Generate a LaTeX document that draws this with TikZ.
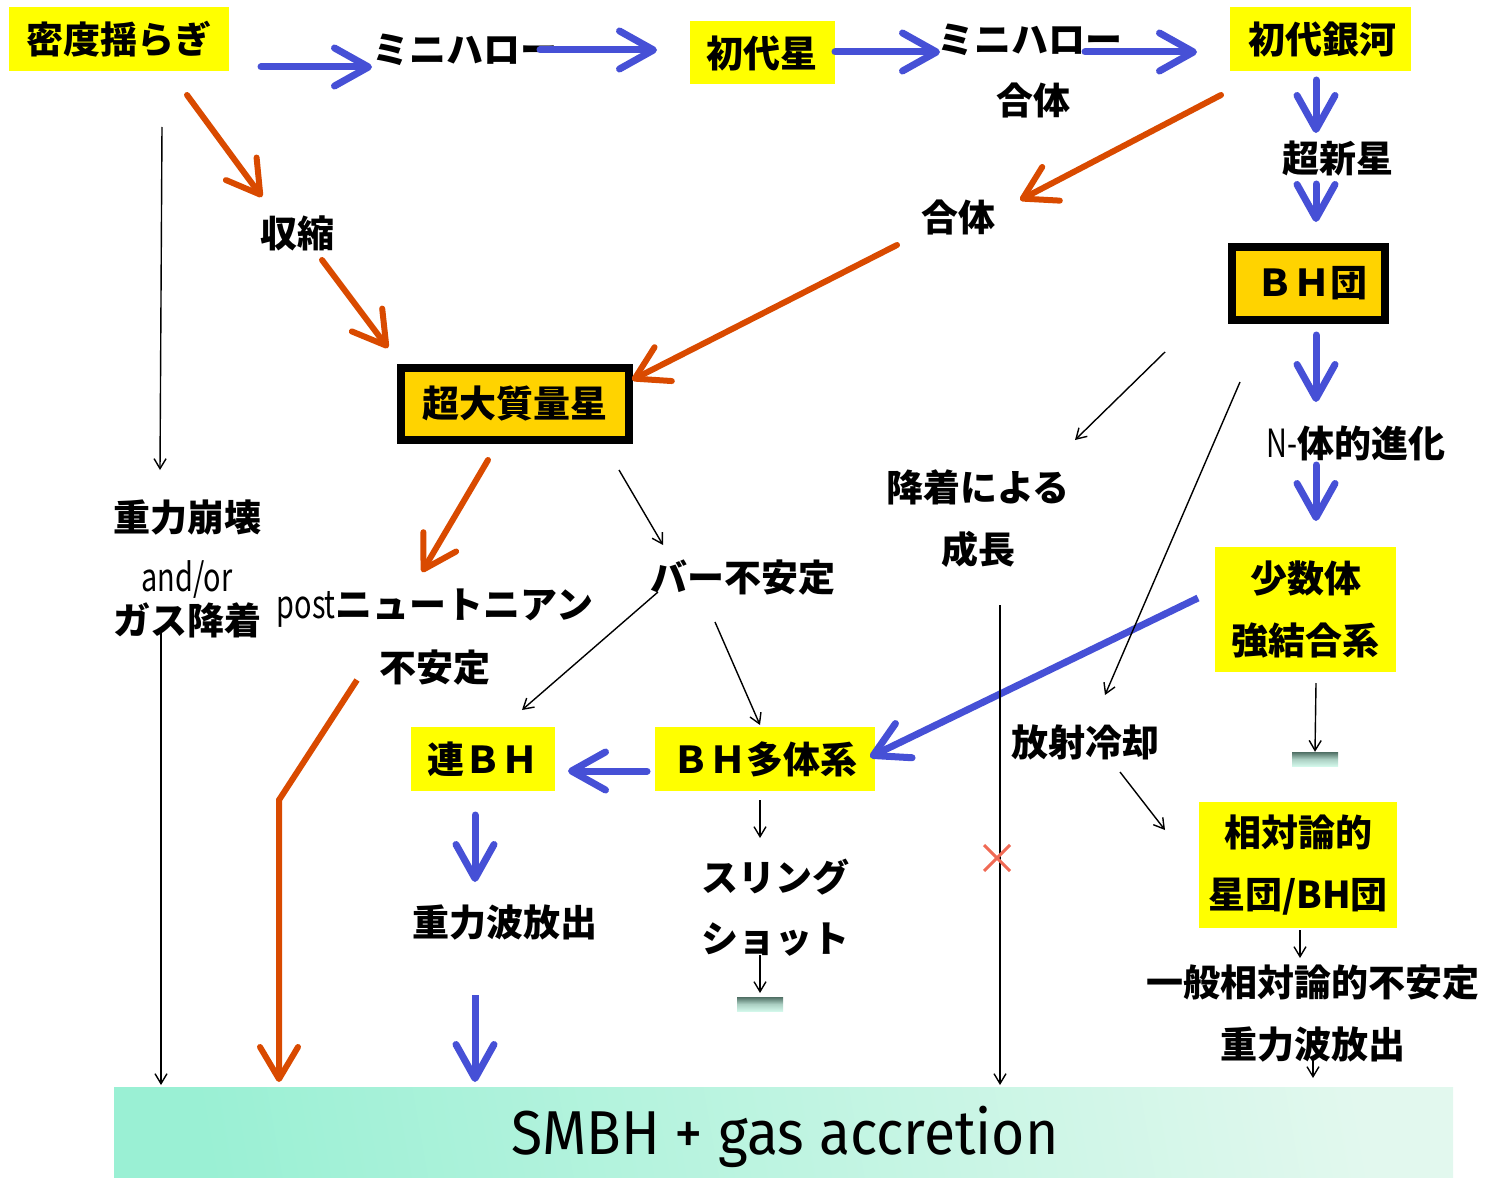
\documentclass[tikz,border=0pt]{standalone}
\usepackage{fontspec}
\setmainfont{Noto Sans CJK JP}
\newfontfamily\smbhfont{Fira Sans}
\usetikzlibrary{arrows.meta}
\definecolor{Yel}{HTML}{FFFF00}
\definecolor{Gold}{HTML}{FFD300}
\definecolor{Blu}{HTML}{4650D6}
\definecolor{Org}{HTML}{D94A00}
\definecolor{RedX}{HTML}{F06A55}
\definecolor{MintL}{HTML}{9AF0D4}
\definecolor{MintR}{HTML}{E2F8EE}
\definecolor{BarTop}{HTML}{4F6F64}
\definecolor{BarBot}{HTML}{D2F7EA}
\newcommand\jpf{\fontsize{37}{62}\selectfont\bfseries}
\newcommand\narrowlat[1]{\scalebox{0.78}[1.05]{\mdseries #1}}
\tikzset{
  lbl/.style={inner sep=0pt, font=\jpf, align=center},
  ybox/.style={fill=Yel, inner sep=0pt, font=\jpf, align=center},
  dbox/.style={fill=Gold, draw=black, line width=8pt, inner sep=0pt, font=\jpf},
  bluarrow/.style={draw=Blu, line width=7pt, line cap=round, -{Straight Barb[length=34pt,width=38pt,round]}},
  orgarrow/.style={draw=Org, line width=6pt, line cap=round, -{Straight Barb[length=32pt,width=38pt,round]}},
  thinarrow/.style={draw=black, line width=1.4pt, -{Straight Barb[length=10pt,width=12pt]}},
  stopbar/.style={shading=axis, top color=BarTop, bottom color=BarBot, middle color=BarBot!70!BarTop},
}
\begin{document}
\begin{tikzpicture}[x=1pt,y=-1pt]
\useasboundingbox (0,0) rectangle (1487,1177);
% ---------- top row ----------
\node[ybox, minimum width=220pt, minimum height=64pt] (mitsudo) at (119,39) {密度揺らぎ};
\node[lbl] (mh1) at (465,50) {ミニハロー};
\node[ybox, minimum width=145pt, minimum height=63pt] (shodaisei) at (762,53) {初代星};
\node[lbl] (mh2) at (1030,40) {ミニハロー};
\node[lbl] (gattai1) at (1033,100) {合体};
\node[ybox, minimum width=181pt, minimum height=64pt] (ginga) at (1320,39) {\hspace*{4pt}初代銀河};
\coordinate (a1s) at (261,67); \coordinate (a1e) at (372,67);
\coordinate (a2s) at (540,50); \coordinate (a2e) at (657,50);
\coordinate (a3s) at (835,52); \coordinate (a3e) at (940,52);
\coordinate (a4s) at (1085,52); \coordinate (a4e) at (1197,52);
\draw[bluarrow] (a1s) -- (a1e);
\draw[bluarrow] (a2s) -- (a2e);
\draw[bluarrow] (a3s) -- (a3e);
\draw[bluarrow] (a4s) -- (a4e);
% ---------- right column ----------
\node[lbl] (sn) at (1338,158) {超新星};
\node[dbox, minimum width=153pt, minimum height=73pt] (bhdan) at (1308.5,283.5) {\hspace*{6pt}ＢＨ団};
\node[lbl] (nbody) at (1356,443) {\narrowlat{N-}体的進化};
\node[ybox, minimum width=181pt, minimum height=125pt] (shosu) at (1305.5,609.5) {少数体\\強結合系};
\coordinate (r1s) at (1316,80); \coordinate (r1e) at (1316,133);
\coordinate (r2s) at (1316,184); \coordinate (r2e) at (1316,222);
\coordinate (r3s) at (1316,335); \coordinate (r3e) at (1316,402);
\coordinate (r4s) at (1316,465); \coordinate (r4e) at (1316,521);
\draw[bluarrow] (r1s) -- (r1e);
\draw[bluarrow] (r2s) -- (r2e);
\draw[bluarrow] (r3s) -- (r3e);
\draw[bluarrow] (r4s) -- (r4e);
\node[stopbar, minimum width=46pt, minimum height=14pt, inner sep=0pt] (bar1) at (1315,759) {};
\coordinate (s1) at (1316,683);
\draw[thinarrow] (s1) -- (bar1.north);
% ---------- orange path ----------
\node[lbl] (shukushuku) at (297,233) {収縮};
\node[dbox, minimum width=228pt, minimum height=72pt] (chodai) at (515,404) {超大質量星};
\node[lbl] (gattai2) at (958,217) {合体};
\coordinate (o1s) at (187,95); \coordinate (o1e) at (262,197);
\coordinate (o2s) at (322,260); \coordinate (o2e) at (388,348);
\coordinate (o3s) at (1221,95); \coordinate (o3e) at (1020,200);
\coordinate (o4s) at (897,245); \coordinate (o4e) at (632,380);
\coordinate (o5s) at (488,460); \coordinate (o5e) at (422,572);
\coordinate (o6s) at (357,680); \coordinate (o6m) at (279,800); \coordinate (o6e) at (279,1082);
\draw[orgarrow] (o1s) -- (o1e);
\draw[orgarrow] (o2s) -- (o2e);
\draw[orgarrow] (o3s) -- (o3e);
\draw[orgarrow] (o4s) -- (o4e);
\draw[orgarrow] (o5s) -- (o5e);
\draw[orgarrow, line cap=butt] (o6s) -- (o6m) -- (o6e);
% ---------- left column ----------
\node[lbl] (houkai) at (187,518) {重力崩壊};
\node[lbl] (andor) at (187,580) {\narrowlat{and/or}};
\node[lbl] (gas) at (187,620) {ガス降着};
\coordinate (l1s) at (162,127); \coordinate (l1e) at (160,470);
\coordinate (l2s) at (161,630); \coordinate (l2e) at (161,1085);
\draw[thinarrow] (l1s) -- (l1e);
\draw[thinarrow] (l2s) -- (l2e);
% ---------- middle ----------
\node[lbl] (post) at (435,608) {\narrowlat{post}ニュートニアン};
\node[lbl] (fuantei) at (435,668) {不安定};
\node[lbl] (bar) at (743,578) {バー不安定};
\node[ybox, minimum width=144pt, minimum height=64pt] (renbh) at (483,759) {連ＢＨ};
\node[ybox, minimum width=220pt, minimum height=64pt] (tabody) at (765,759) {ＢＨ多体系};
\node[lbl] (sling) at (775,877) {スリング};
\node[lbl] (shot) at (775,940) {ショット};
\node[lbl] (gw1) at (505,923) {重力波放出};
\node[stopbar, minimum width=46pt, minimum height=14pt, inner sep=0pt] (bar2) at (760,1004) {};
\coordinate (m1s) at (619,470); \coordinate (m1e) at (663,545);
\coordinate (m2s) at (658,592); \coordinate (m2e) at (522,710);
\coordinate (m3s) at (715,622); \coordinate (m3e) at (760,725);
\coordinate (m4s) at (760,800); \coordinate (m4e) at (760,838);
\coordinate (m5s) at (760,955); \coordinate (m5e) at (760,993);
\draw[thinarrow] (m1s) -- (m1e);
\draw[thinarrow] (m2s) -- (m2e);
\draw[thinarrow] (m3s) -- (m3e);
\draw[thinarrow] (m4s) -- (m4e);
\draw[thinarrow] (m5s) -- (m5e);
\coordinate (b1s) at (647,771); \coordinate (b1e) at (568,771);
\coordinate (b2s) at (475,815); \coordinate (b2e) at (475,882);
\coordinate (b3s) at (475,995); \coordinate (b3e) at (475,1082);
\coordinate (b4s) at (1198,598); \coordinate (b4e) at (870,757);
\draw[bluarrow] (b1s) -- (b1e);
\draw[bluarrow] (b2s) -- (b2e);
\draw[bluarrow, line cap=butt] (b3s) -- (b3e);
\draw[bluarrow, line cap=butt] (b4s) -- (b4e);
% ---------- accretion / cooling ----------
\node[lbl] (kochaku) at (978,487) {降着による};
\node[lbl] (seicho) at (978,549) {成長};
\node[lbl] (reikyaku) at (1085,742) {放射冷却};
\node[ybox, minimum width=198pt, minimum height=126pt] (soutai) at (1298,865) {相対論的\\星団/BH団};
\node[lbl] (ippan) at (1313,983) {一般相対論的不安定};
\node[lbl] (gw2) at (1313,1045) {重力波放出};
\coordinate (c1s) at (1165,352); \coordinate (c1e) at (1075,440);
\coordinate (c2s) at (1000,605); \coordinate (c2e) at (1000,1085);
\coordinate (c3s) at (1240,382); \coordinate (c3e) at (1105,695);
\coordinate (c4s) at (1120,772); \coordinate (c4e) at (1165,830);
\coordinate (c5s) at (1300,930); \coordinate (c5e) at (1300,958);
\coordinate (c6s) at (1313,1058); \coordinate (c6e) at (1313,1078);
\draw[thinarrow] (c1s) -- (c1e);
\draw[thinarrow] (c2s) -- (c2e);
\draw[thinarrow] (c3s) -- (c3e);
\draw[thinarrow] (c4s) -- (c4e);
\draw[thinarrow] (c5s) -- (c5e);
\draw[thinarrow] (c6s) -- (c6e);
\coordinate (x1) at (984,845); \coordinate (x2) at (1010,871);
\coordinate (x3) at (984,871); \coordinate (x4) at (1010,845);
\draw[RedX, line width=3pt] (x1) -- (x2) (x3) -- (x4);
% ---------- bottom ----------
\node[shading=axis, left color=MintL, right color=MintR, shading angle=100, minimum width=1339pt, minimum height=90pt, inner sep=0pt] (smbh) at (783.5,1132) {};
\node[inner sep=0pt, font=\smbhfont\fontsize{62}{64}\selectfont] (smbhtxt) at (785,1137) {\scalebox{0.92}[1]{SMBH + gas accretion}};
\end{tikzpicture}
\end{document}
